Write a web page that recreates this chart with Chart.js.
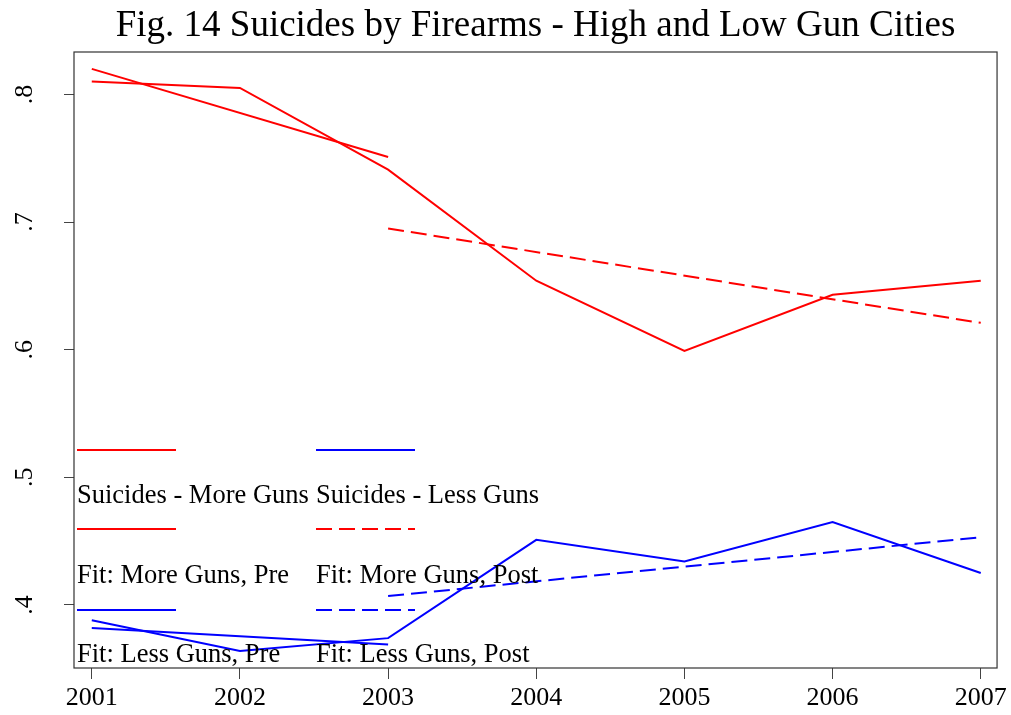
<!DOCTYPE html>
<html>
<head>
<meta charset="utf-8">
<script src="https://cdn.jsdelivr.net/npm/chart.js@4.4.1/dist/chart.umd.min.js"></script>
<style>
  html, body { margin: 0; padding: 0; background: #fff; }
</style>
</head>
<body>
<canvas id="chart" width="1011" height="715"></canvas>
<script>
// data
const years = [2001, 2002, 2003, 2004, 2005, 2006, 2007];
const moreGuns = [0.810, 0.805, 0.741, 0.654, 0.599, 0.643, 0.654];
const lessGuns = [0.388, 0.364, 0.374, 0.451, 0.434, 0.465, 0.425];

const preYears = [2001, 2003];
const postYears = [2003, 2007];
const fitMorePre = [0.820, 0.751];
const fitMorePost = [0.695, 0.621];
const fitLessPre = [0.382, 0.369];
const fitLessPost = [0.407, 0.453];

const yTicks = [0.4, 0.5, 0.6, 0.7, 0.8];
const yTickLabels = ['.4', '.5', '.6', '.7', '.8'];

const legendLabels = [
    'Suicides - More Guns', 'Suicides - Less Guns',
    'Fit: More Guns, Pre', 'Fit: More Guns, Post',
    'Fit: Less Guns, Pre', 'Fit: Less Guns, Post'
];

const RED = '#ff0000';
const BLUE = '#0000ff';
const DASH = [16, 7];
const FONT = "'Liberation Serif', 'Times New Roman', serif";

function pts(xs, ys) {
    return xs.map((x, i) => ({ x: x, y: ys[i] }));
}

function series(label, xs, ys, color, dash) {
    return {
        label: label,
        data: pts(xs, ys),
        borderColor: color,
        backgroundColor: color,
        borderWidth: 2,
        borderDash: dash || [],
        pointRadius: 0,
        tension: 0,
        fill: false
    };
}

const datasets = [
    series(legendLabels[0], years, moreGuns, RED),
    series(legendLabels[1], years, lessGuns, BLUE),
    series(legendLabels[2], preYears, fitMorePre, RED),
    series(legendLabels[3], postYears, fitMorePost, RED, DASH),
    series(legendLabels[4], preYears, fitLessPre, BLUE),
    series(legendLabels[5], postYears, fitLessPost, BLUE, DASH)
];

// frame, rotated y labels and the stata-like legend
const extras = {
    id: 'extras',
    afterDraw(chart) {
        const ctx = chart.ctx;
        const area = chart.chartArea;
        const yScale = chart.scales.y;

        ctx.save();
        ctx.strokeStyle = '#333';
        ctx.lineWidth = 1.2;
        ctx.strokeRect(area.left, area.top, area.right - area.left, area.bottom - area.top);

        // y tick labels, reading upward
        ctx.fillStyle = '#000';
        ctx.font = '26px ' + FONT;
        ctx.textAlign = 'center';
        ctx.textBaseline = 'alphabetic';
        yTicks.forEach((v, i) => {
            const py = yScale.getPixelForValue(v);
            ctx.save();
            ctx.translate(32, py);
            ctx.rotate(-Math.PI / 2);
            ctx.fillText(yTickLabels[i], 0, 0);
            ctx.restore();
        });

        // legend: two columns, line sample over text
        const colX = [area.left + 3, area.left + 242];
        const lineY = [450, 529, 610];
        const textY = [503, 583, 662];
        ctx.font = '26.5px ' + FONT;
        ctx.textAlign = 'left';
        chart.data.datasets.forEach((ds, i) => {
            const col = i % 2;
            const row = Math.floor(i / 2);
            const x = colX[col];
            ctx.beginPath();
            ctx.strokeStyle = ds.borderColor;
            ctx.lineWidth = 2;
            ctx.setLineDash(ds.borderDash);
            ctx.moveTo(x, lineY[row]);
            ctx.lineTo(x + 99, lineY[row]);
            ctx.stroke();
            ctx.setLineDash([]);
            ctx.fillStyle = '#000';
            ctx.fillText(ds.label, x, textY[row]);
        });
        ctx.restore();
    }
};

new Chart(document.getElementById('chart'), {
    type: 'line',
    data: { datasets: datasets },
    plugins: [extras],
    options: {
        responsive: false,
        animation: false,
        layout: { padding: { left: 0, right: 12, top: 0, bottom: 0 } },
        plugins: {
            legend: { display: false },
            tooltip: { enabled: false },
            title: {
                display: true,
                fullSize: false,
                text: 'Fig. 14 Suicides by Firearms - High and Low Gun Cities',
                color: '#000',
                font: { family: FONT, size: 37, weight: 'normal', lineHeight: 1.2 },
                padding: { top: 4.5, bottom: 3.1 }
            }
        },
        scales: {
            x: {
                type: 'linear',
                min: 2000.88,
                max: 2007.11,
                afterBuildTicks: s => { s.ticks = years.map(v => ({ value: v })); },
                afterFit: s => { s.height = 47; },
                grid: { drawOnChartArea: false, drawTicks: true, tickLength: 11, color: '#444' },
                border: { display: false },
                ticks: {
                    color: '#000',
                    padding: 4,
                    maxRotation: 0,
                    font: { family: FONT, size: 26 },
                    callback: v => String(v)
                }
            },
            y: {
                type: 'linear',
                min: 0.3506,
                max: 0.8332,
                afterBuildTicks: s => { s.ticks = yTicks.map(v => ({ value: v })); },
                afterFit: s => { s.width = 74; },
                grid: { drawOnChartArea: false, drawTicks: true, tickLength: 10, color: '#444' },
                border: { display: false },
                ticks: { display: false }
            }
        }
    }
});
</script>
</body>
</html>
